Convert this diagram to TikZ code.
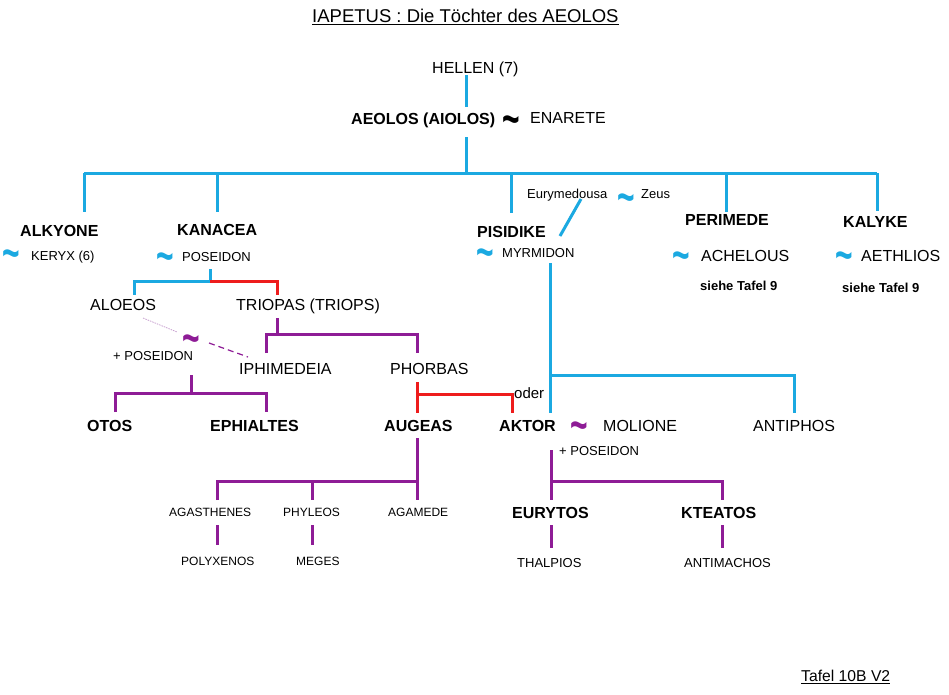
\documentclass[tikz,border=0pt]{standalone}
\usepackage{fontspec}
\setmainfont{Liberation Sans}
\usepackage{graphicx}
\definecolor{cblue}{HTML}{1BA9E1}
\definecolor{cred}{HTML}{EE1C1C}
\definecolor{cpurp}{HTML}{8E1C96}
\definecolor{cpurpl}{HTML}{C8A0D0}
\newcommand\mytilde{\raisebox{-0.99em}[0.26em][0.26em]{\scalebox{1.875}[3.0]{\textasciitilde}}}
\begin{document}
\begin{tikzpicture}[x=1pt,y=-1pt,
 lab/.style={inner sep=0pt, anchor=base west, font=\fontsize{16}{19}\selectfont},
 labb/.style={lab, font=\fontsize{16}{19}\selectfont\bfseries},
 labs/.style={lab, font=\fontsize{13}{16}\selectfont},
 labsb/.style={lab, font=\fontsize{13}{16}\selectfont\bfseries},
 labxs/.style={lab, font=\fontsize{12}{14}\selectfont},
 tnode/.style={inner sep=0pt, anchor=center, font=\fontsize{16}{16}\selectfont\bfseries},
 bl/.style={draw=cblue, line width=3pt},
 rl/.style={draw=cred, line width=3pt},
 pl/.style={draw=cpurp, line width=3pt},
]
\useasboundingbox (0,0) rectangle (949,694);
\fill[white] (0,0) rectangle (949,694);

% ---------- texts ----------
\node[lab, font=\fontsize{18.5}{22}\selectfont] (title) at (312,22.7) {IAPETUS : Die Töchter des AEOLOS};
\draw[line width=1pt] ([yshift=-1.8pt]title.base west) -- ([yshift=-1.8pt]title.base east);
\node[lab] (hellen) at (432,73) {HELLEN (7)};
\node[labb] (aeolos) at (351,124) {AEOLOS (AIOLOS)};
\node[tnode, text=black] (t0) at (511,119.5) {\mytilde};
\node[lab] (enarete) at (530,123) {ENARETE};

\node[labb] (alkyone) at (20,236) {ALKYONE};
\node[tnode, text=cblue] (t1) at (11,254) {\mytilde};
\node[labs] (keryx) at (31,260.7) {KERYX (6)};

\node[labb] (kanacea) at (177,235) {KANACEA};
\node[tnode, text=cblue] (t2) at (165,257) {\mytilde};
\node[labs] (pos1) at (182,261.5) {POSEIDON};

\node[lab] (aloeos) at (90,310) {ALOEOS};
\node[lab] (triopas) at (236,310) {TRIOPAS (TRIOPS)};
\node[tnode, text=cpurp] (t3) at (191,339) {\mytilde};
\node[labs] (pos2) at (113,360) {+ POSEIDON};
\node[lab] (iphim) at (239,374) {IPHIMEDEIA};
\node[lab] (phorbas) at (390,374) {PHORBAS};
\node[labb] (otos) at (87,431) {OTOS};
\node[labb] (ephialtes) at (210,431) {EPHIALTES};

\node[labs] (eury) at (527,198) {Eurymedousa};
\node[tnode, text=cblue] (t4) at (626,197.5) {\mytilde};
\node[labs] (zeus) at (641,198) {Zeus};
\node[labb] (pisidike) at (477,237) {PISIDIKE};
\node[tnode, text=cblue] (t5) at (485,253) {\mytilde};
\node[labs] (myrm) at (502,257) {MYRMIDON};

\node[labb] (perimede) at (685,225) {PERIMEDE};
\node[tnode, text=cblue] (t6) at (681,255.5) {\mytilde};
\node[lab] (achelous) at (701,261) {ACHELOUS};
\node[labsb] (siehe1) at (700,290) {siehe Tafel 9};

\node[labb] (kalyke) at (843,227) {KALYKE};
\node[tnode, text=cblue] (t7) at (844,256) {\mytilde};
\node[lab] (aethlios) at (861,261) {AETHLIOS};
\node[labsb] (siehe2) at (842,292) {siehe Tafel 9};

\node[labb] (augeas) at (384,431) {AUGEAS};
\node[lab, font=\fontsize{15}{18}\selectfont] (oder) at (514,398) {oder};
\node[labb] (aktor) at (499,431) {AKTOR};
\node[tnode, text=cpurp] (t8) at (579,426) {\mytilde};
\node[lab] (molione) at (603,431) {MOLIONE};
\node[lab] (antiphos) at (753,431) {ANTIPHOS};
\node[labs] (pos3) at (559,455) {+ POSEIDON};

\node[labxs] (agas) at (169,516) {AGASTHENES};
\node[labxs] (phyleos) at (283,516) {PHYLEOS};
\node[labxs] (agamede) at (388,516) {AGAMEDE};
\node[labb] (eurytos) at (512,518) {EURYTOS};
\node[labb] (kteatos) at (681,518) {KTEATOS};
\node[labxs] (polyx) at (181,565) {POLYXENOS};
\node[labxs] (meges) at (296,565) {MEGES};
\node[labs] (thalpios) at (517,567.5) {THALPIOS};
\node[labs] (antim) at (684,567.5) {ANTIMACHOS};

\node[lab, font=\fontsize{15.7}{18}\selectfont] (tafel) at (801,681.7) {Tafel 10B V2};
\draw[line width=1pt] ([yshift=-1.8pt]tafel.base west) -- ([yshift=-1.8pt]tafel.base east);

% ---------- junction coordinates ----------
\coordinate (c-hel) at (466,75);
\coordinate (c-aeo-top) at (466,107);
\coordinate (c-aeo-bot) at (466,137);
\coordinate (bus) at (466,173);
\coordinate (bus-l) at (84,173);
\coordinate (bus-r) at (877,173);
\coordinate (d-alk) at (84,212);
\coordinate (d-kan) at (217,212);
\coordinate (d-pis) at (511,213);
\coordinate (d-per) at (726,212);
\coordinate (d-kal) at (877,211);

\coordinate (k-top) at (210,269);
\coordinate (k-bus) at (210,281);
\coordinate (k-alo) at (134,295);
\coordinate (k-tri) at (277,295);

\coordinate (t-top) at (277,318);
\coordinate (t-bus) at (277,334);
\coordinate (t-iph) at (266,353);
\coordinate (t-pho) at (417,353);

\coordinate (o-top) at (191,375);
\coordinate (o-bus) at (191,393);
\coordinate (o-oto) at (115,412);
\coordinate (o-eph) at (266,412);

\coordinate (p-top) at (417,382);
\coordinate (p-bot) at (417,413);
\coordinate (p-bus) at (417,394);
\coordinate (p-akt) at (512,413);

\coordinate (m-top) at (550,263);
\coordinate (m-bot) at (550,413);
\coordinate (m-bus) at (550,375);
\coordinate (m-ant) at (794,413);

\coordinate (e1) at (581,199);
\coordinate (e2) at (560,236);

\coordinate (a-top) at (417,438);
\coordinate (a-bot) at (417,500);
\coordinate (a-bus) at (417,481);
\coordinate (a-aga) at (217,500);
\coordinate (a-phy) at (312,500);

\coordinate (ak-top) at (551,450);
\coordinate (ak-bot) at (551,500);
\coordinate (ak-bus) at (551,481);
\coordinate (ak-kte) at (722,500);

\coordinate (g1a) at (217,525); \coordinate (g1b) at (217,545);
\coordinate (g2a) at (312,525); \coordinate (g2b) at (312,545);
\coordinate (g3a) at (551,525); \coordinate (g3b) at (551,548);
\coordinate (g4a) at (722,525); \coordinate (g4b) at (722,548);

\coordinate (h1) at (143,318); \coordinate (h2) at (177,332);
\coordinate (h3) at (209,343); \coordinate (h4) at (248,357);

% ---------- connectors ----------
\draw[bl] (c-hel) -- (c-aeo-top);
\draw[bl] (c-aeo-bot) -- (bus);
\draw[bl] (bus-l) -- (bus-r);
\foreach \d in {d-alk,d-kan,d-pis,d-per,d-kal} \draw[bl] (\d |- bus) -- (\d);

\draw[bl] (k-top) -- (k-bus) -| (k-alo);
\draw[rl] (k-bus) -| (k-tri);

\draw[pl] (t-top) -- (t-bus);
\draw[pl] (t-iph) |- (t-bus) -| (t-pho);

\draw[cpurpl, line width=0.8pt, dash pattern=on 1.5pt off 1pt] (h1) -- (h2);
\draw[cpurp, line width=1.2pt, dash pattern=on 6pt off 4pt] (h3) -- (h4);

\draw[pl] (o-top) -- (o-bus);
\draw[pl] (o-oto) |- (o-bus) -| (o-eph);

\draw[rl] (p-top) -- (p-bot);
\draw[rl] (p-bus) -| (p-akt);

\draw[bl] (e1) -- (e2);
\draw[bl] (m-top) -- (m-bot);
\draw[bl] (m-bus) -| (m-ant);

\draw[pl] (a-top) -- (a-bot);
\draw[pl] (a-aga) |- (a-bus);
\draw[pl] (a-phy |- a-bus) -- (a-phy);

\draw[pl] (ak-top) -- (ak-bot);
\draw[pl] (ak-bus) -| (ak-kte);

\draw[pl] (g1a) -- (g1b);
\draw[pl] (g2a) -- (g2b);
\draw[pl] (g3a) -- (g3b);
\draw[pl] (g4a) -- (g4b);
\end{tikzpicture}
\end{document}
